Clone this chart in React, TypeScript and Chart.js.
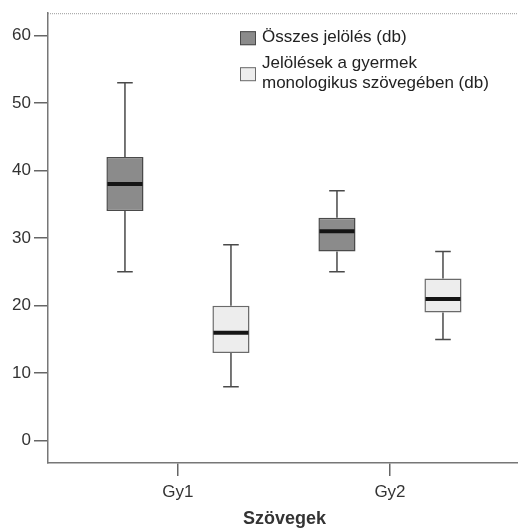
import React, { useEffect, useRef } from 'react';
import { Chart, registerables } from 'chart.js';
Chart.register(...registerables);

const categories = ['Gy1', 'Gy2'];
const categoryPositions = [1, 2];
const seriesNames = ['Összes jelölés (db)', 'Jelölések a gyermek monologikus szövegében (db)'];
const legendLines = [['Összes jelölés (db)'], ['Jelölések a gyermek', 'monologikus szövegében (db)']];
const osszesMin = [25, 25];
const osszesQ1 = [34, 28];
const osszesMedian = [38, 31];
const osszesQ3 = [42, 33];
const osszesMax = [53, 37];
const monoMin = [8, 15];
const monoQ1 = [13, 19];
const monoMedian = [16, 21];
const monoQ3 = [20, 24];
const monoMax = [29, 28];
const yTicks = [0, 10, 20, 30, 40, 50, 60];
const xTitle = 'Szövegek';

const FONT = "'Liberation Sans', Arial, sans-serif";
const fills = ['#8b8b8b', '#ededed'];
const borders = ['#4a4a4a', '#6a6a6a'];

const stats = [
  { min: osszesMin, q1: osszesQ1, med: osszesMedian, q3: osszesQ3, max: osszesMax },
  { min: monoMin, q1: monoQ1, med: monoMedian, q3: monoQ3, max: monoMax },
];

const boxPlugin = {
  id: 'boxWhiskers',
  afterDatasetsDraw(chart: any) {
    const ctx = chart.ctx;
    const ys = chart.scales.y;
    stats.forEach((s, i) => {
      const meta = chart.getDatasetMeta(i);
      meta.data.forEach((bar: any, j: number) => {
        const x = bar.x;
        const w = bar.width;
        const cap = w * 0.42;
        const pMin = ys.getPixelForValue(s.min[j]);
        const pQ1 = ys.getPixelForValue(s.q1[j]);
        const pQ3 = ys.getPixelForValue(s.q3[j]);
        const pMax = ys.getPixelForValue(s.max[j]);
        const pMed = ys.getPixelForValue(s.med[j]);
        ctx.save();
        ctx.strokeStyle = '#4a4a4a';
        ctx.lineWidth = 1.5;
        ctx.beginPath();
        ctx.moveTo(x, pQ3);
        ctx.lineTo(x, pMax);
        ctx.moveTo(x - cap / 2, pMax);
        ctx.lineTo(x + cap / 2, pMax);
        ctx.moveTo(x, pQ1);
        ctx.lineTo(x, pMin);
        ctx.moveTo(x - cap / 2, pMin);
        ctx.lineTo(x + cap / 2, pMin);
        ctx.stroke();
        ctx.strokeStyle = '#151515';
        ctx.lineWidth = 4;
        ctx.beginPath();
        ctx.moveTo(x - w / 2 + 1, pMed);
        ctx.lineTo(x + w / 2 - 1, pMed);
        ctx.stroke();
        ctx.restore();
      });
    });
  },
};

const framePlugin = {
  id: 'frameLegend',
  afterDraw(chart: any) {
    const ctx = chart.ctx;
    const a = chart.chartArea;
    ctx.save();
    ctx.strokeStyle = '#9a9a9a';
    ctx.lineWidth = 1;
    ctx.setLineDash([1, 1]);
    ctx.beginPath();
    ctx.moveTo(a.left, a.top + 0.5);
    ctx.lineTo(a.right, a.top + 0.5);
    ctx.stroke();
    ctx.setLineDash([]);
    // legend
    const sx = a.left + 192;
    const tx = a.left + 214;
    const rows = [
      { swTop: a.top + 18, baselines: [a.top + 29] },
      { swTop: a.top + 54, baselines: [a.top + 55, a.top + 75] },
    ];
    ctx.font = `17px ${FONT}`;
    ctx.textBaseline = 'alphabetic';
    ctx.textAlign = 'left';
    rows.forEach((r, i) => {
      ctx.fillStyle = fills[i];
      ctx.fillRect(sx, r.swTop, 16, 14);
      ctx.strokeStyle = borders[i];
      ctx.lineWidth = 1;
      ctx.strokeRect(sx + 0.5, r.swTop + 0.5, 15, 13);
      ctx.fillStyle = '#222';
      legendLines[i].forEach((t, k) => ctx.fillText(t, tx, r.baselines[k]));
    });
    ctx.restore();
  },
};

export default function App() {
  const ref = useRef<HTMLCanvasElement>(null);
  useEffect(() => {
    if (!ref.current) return;
    const chart = new Chart(ref.current, {
      type: 'bar',
      data: {
        datasets: stats.map((s, i) => ({
          label: seriesNames[i],
          data: categoryPositions.map((x, j) => ({ x, y: [s.q1[j], s.q3[j]] })),
          backgroundColor: fills[i],
          borderColor: borders[i],
          borderWidth: 1.5,
          borderSkipped: false,
          categoryPercentage: 1.0,
          barPercentage: 0.35,
        })),
      } as any,
      options: {
        animation: false,
        responsive: false,
        devicePixelRatio: 1,
        layout: { padding: { top: 13, right: 9, left: 0, bottom: 0 } },
        plugins: { legend: { display: false }, tooltip: { enabled: false } },
        scales: {
          x: {
            type: 'linear',
            offset: false,
            min: 0.387,
            max: 2.618,
            afterBuildTicks: (s: any) => {
              s.ticks = categoryPositions.map((v) => ({ value: v }));
            },
            afterFit: (s: any) => {
              s.height = 65;
            },
            grid: { offset: false, drawOnChartArea: false, tickLength: 13, color: '#666', lineWidth: 1.5 },
            border: { display: true, color: '#777', width: 1.5 },
            ticks: {
              padding: 6,
              color: '#333',
              font: { family: FONT, size: 17 },
              callback: (v: any) => categories[categoryPositions.indexOf(Number(v))] ?? '',
            },
            title: {
              display: true,
              text: xTitle,
              color: '#333',
              font: { family: FONT, size: 18, weight: 'bold', lineHeight: 1 },
              padding: 0,
            },
          },
          y: {
            min: -3.3,
            max: 63.3,
            afterBuildTicks: (s: any) => {
              s.ticks = yTicks.map((v) => ({ value: v }));
            },
            afterFit: (s: any) => {
              s.width = 48;
            },
            grid: { drawOnChartArea: false, tickLength: 14, color: '#666', lineWidth: 1.5 },
            border: { display: true, color: '#777', width: 1.5 },
            ticks: {
              padding: 3,
              color: '#333',
              font: { family: FONT, size: 17 },
            },
          },
        },
      } as any,
      plugins: [boxPlugin, framePlugin],
    });
    return () => chart.destroy();
  }, []);
  return (
    <div style={{ position: 'fixed', left: 0, top: 0, width: 518, height: 528, overflow: 'hidden', background: '#fff' }}>
      <canvas ref={ref} width={530} height={528} style={{ width: 530, height: 528, display: 'block' }} />
    </div>
  );
}
